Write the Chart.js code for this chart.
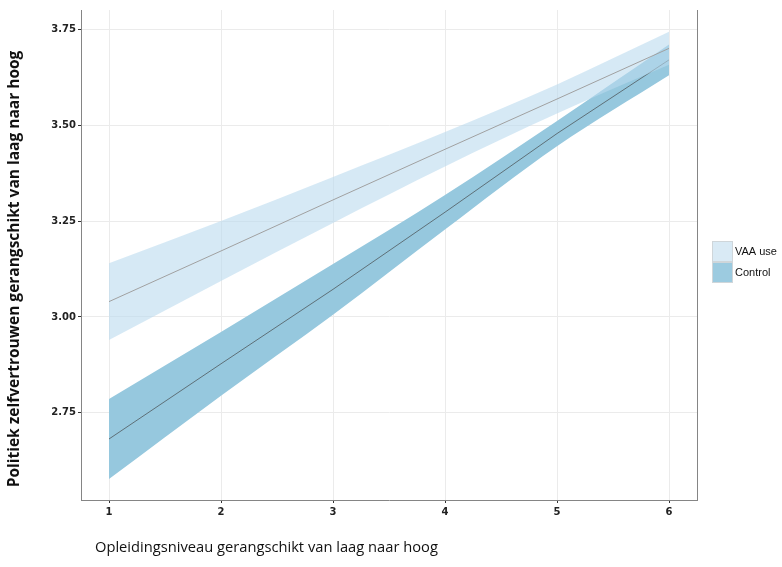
<!DOCTYPE html>
<html>
<head>
<meta charset="utf-8">
<script src="https://cdn.jsdelivr.net/npm/chart.js@4.4.1/dist/chart.umd.min.js"></script>
<style>
  html, body { margin: 0; padding: 0; background: #ffffff; }
  #wrap { width: 782px; height: 567px; position: relative; }
</style>
</head>
<body>
<div id="wrap"><canvas id="c" width="782" height="567"></canvas></div>
<script>
// ---- data ----
const xLevels      = [1, 2, 3, 4, 5, 6];
const vaaFit       = [3.04, 3.172, 3.305, 3.437, 3.568, 3.70];
const vaaLower     = [2.94, 3.094, 3.245, 3.392, 3.53, 3.657];
const vaaUpper     = [3.14, 3.25, 3.365, 3.482, 3.606, 3.743];
const controlFit   = [2.682, 2.878, 3.072, 3.273, 3.478, 3.67];
const controlLower = [2.578, 2.795, 3.006, 3.228, 3.445, 3.63];
const controlUpper = [2.786, 2.961, 3.138, 3.318, 3.511, 3.71];
const xTicks = [1, 2, 3, 4, 5, 6];
const yTicks = [2.75, 3.00, 3.25, 3.50, 3.75];
const legendLabels = ['VAA use', 'Control'];
const yTitle = 'Politiek zelfvertrouwen gerangschikt van laag naar hoog';
const xTitle = 'Opleidingsniveau gerangschikt van laag naar hoog';

const pts = arr => arr.map((v, i) => ({ x: xLevels[i], y: v }));

const vaaFill = 'rgba(187,218,238,0.6)';
const controlFill = 'rgba(150,200,222,1)';
const legendVaa = '#d9eaf5';
const legendControl = '#9ccbe0';

const band = {
  pointRadius: 0, borderWidth: 0, borderColor: 'rgba(0,0,0,0)',
  cubicInterpolationMode: 'monotone'
};

const datasets = [
  Object.assign({ label: 'cl', data: pts(controlLower), fill: false, order: 5 }, band),
  Object.assign({ label: 'cu', data: pts(controlUpper), fill: 0, backgroundColor: controlFill, order: 4 }, band),
  { label: 'cf', data: pts(controlFit), borderColor: '#5e7078', borderWidth: 1, pointRadius: 0, fill: false, order: 3 },
  Object.assign({ label: 'vl', data: pts(vaaLower), fill: false, order: 2 }, band),
  Object.assign({ label: 'vu', data: pts(vaaUpper), fill: 3, backgroundColor: vaaFill, order: 1 }, band),
  { label: 'vf', data: pts(vaaFit), borderColor: '#a0a0a0', borderWidth: 1, pointRadius: 0, fill: false, order: 0 }
];

const decor = {
  id: 'decor',
  afterDraw(chart) {
    const ctx = chart.ctx;
    const a = chart.chartArea;
    ctx.save();
    ctx.strokeStyle = '#858585';
    ctx.lineWidth = 1;
    ctx.beginPath();
    ctx.moveTo(a.right + 0.5, a.top);
    ctx.lineTo(a.right + 0.5, a.bottom);
    ctx.stroke();

    ctx.fillStyle = '#111111';
    ctx.font = 'bold 15.5px "Open Sans"';
    ctx.textAlign = 'center';
    ctx.textBaseline = 'middle';
    ctx.translate(15, 269);
    ctx.rotate(-Math.PI / 2);
    ctx.fillText(yTitle, 0, 0);
    ctx.setTransform(1, 0, 0, 1, 0, 0);

    ctx.font = '14.7px "Open Sans"';
    ctx.textAlign = 'left';
    ctx.textBaseline = 'middle';
    ctx.fillText(xTitle, 95, 548);

    const bx = 712, bw = 21, bh = 21;
    const tops = [241, 262];
    const cols = [legendVaa, legendControl];
    ctx.font = '11px "Liberation Sans"';
    for (let i = 0; i < 2; i++) {
      ctx.fillStyle = cols[i];
      ctx.fillRect(bx, tops[i], bw, bh);
      ctx.strokeStyle = '#cfd6da';
      ctx.lineWidth = 1;
      ctx.strokeRect(bx + 0.5, tops[i] + 0.5, bw - 1, bh - 1);
      ctx.fillStyle = '#111111';
      ctx.textAlign = 'left';
      ctx.textBaseline = 'middle';
      ctx.fillText(legendLabels[i], 735, tops[i] + 11);
    }
    ctx.restore();
  }
};

const tickFont = { family: '"DejaVu Sans"', size: 10, weight: 'bold' };

new Chart(document.getElementById('c'), {
  type: 'line',
  data: { datasets },
  options: {
    responsive: false,
    animation: false,
    events: [],
    layout: { padding: { left: 0, right: 85, top: 10, bottom: 0 } },
    plugins: { legend: { display: false }, tooltip: { enabled: false } },
    elements: { line: { tension: 0 } },
    scales: {
      x: {
        type: 'linear',
        min: 0.75, max: 6.25,
        afterBuildTicks: s => { s.ticks = xTicks.map(v => ({ value: v })); },
        afterFit: s => { s.height = 67; },
        ticks: { font: tickFont, color: '#222222', padding: 3, maxRotation: 0, callback: v => String(v) },
        grid: { color: '#ebebeb', lineWidth: 1, tickColor: '#333333', tickLength: 3 },
        border: { color: '#858585', width: 1 }
      },
      y: {
        type: 'linear',
        min: 2.523, max: 3.80,
        afterBuildTicks: s => { s.ticks = yTicks.map(v => ({ value: v })); },
        afterFit: s => { s.width = 81; },
        ticks: { font: tickFont, color: '#222222', padding: 2, callback: v => Number(v).toFixed(2) },
        grid: { color: '#ebebeb', lineWidth: 1, tickColor: '#333333', tickLength: 3 },
        border: { color: '#858585', width: 1 }
      }
    }
  },
  plugins: [decor]
});
</script>
</body>
</html>
